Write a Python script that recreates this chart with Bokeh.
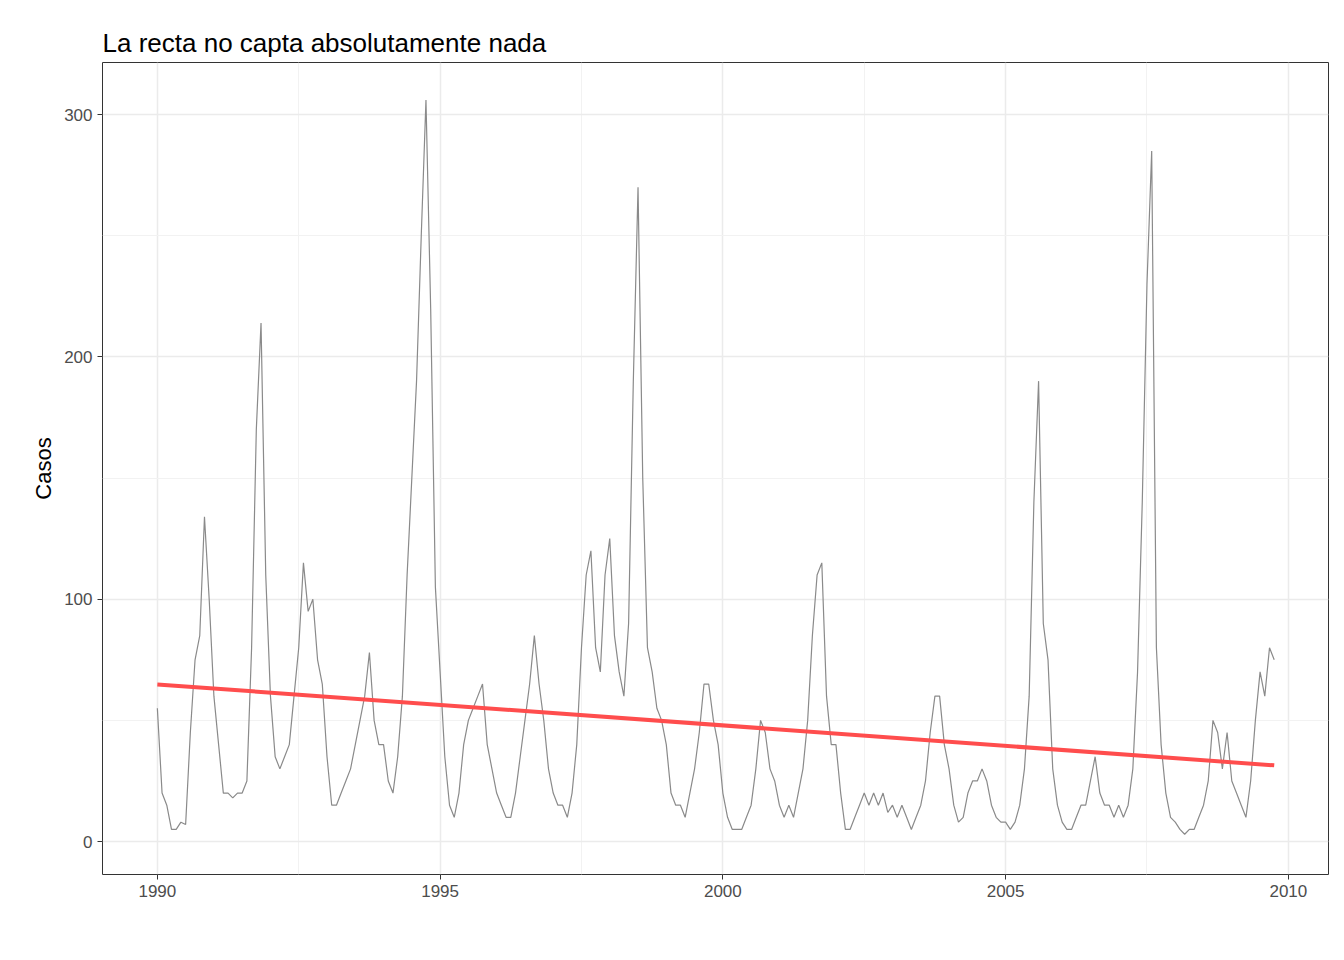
import numpy as np
from bokeh.plotting import figure
from bokeh.models import FixedTicker, Range1d
from bokeh.embed import file_html
from bokeh.resources import INLINE

start_year = 1990
casos = [
 55,20,15,5,5,8,7,45,75,85,134,100,
 60,40,20,20,18,20,20,25,80,170,214,110,
 60,35,30,35,40,60,80,115,95,100,75,65,
 35,15,15,20,25,30,40,50,60,78,50,40,
 40,25,20,35,60,110,150,190,250,306,220,105,
 70,35,15,10,20,40,50,55,60,65,40,30,
 20,15,10,10,20,35,50,65,85,65,50,30,
 20,15,15,10,20,40,80,110,120,80,70,110,
 125,85,70,60,90,190,270,150,80,70,55,50,
 40,20,15,15,10,20,30,45,65,65,50,40,
 20,10,5,5,5,10,15,30,50,45,30,25,
 15,10,15,10,20,30,50,85,110,115,60,40,
 40,20,5,5,10,15,20,15,20,15,20,12,
 15,10,15,10,5,10,15,25,45,60,60,40,
 30,15,8,10,20,25,25,30,25,15,10,8,
 8,5,8,15,30,60,140,190,90,75,30,15,
 8,5,5,10,15,15,25,35,20,15,15,10,
 15,10,15,30,70,140,230,285,80,40,20,10,
 8,5,3,5,5,10,15,25,50,45,30,45,
 25,20,15,10,25,50,70,60,80,75,
]
x_ticks = [1990, 1995, 2000, 2005, 2010]
x_minor = [1992.5, 1997.5, 2002.5, 2007.5]
y_ticks = [0, 100, 200, 300]
y_minor = [50, 150, 250]

t = start_year + np.arange(len(casos)) / 12.0
y = np.array(casos, dtype=float)
b, a = np.polyfit(t, y, 1)
fit_x = [t[0], t[-1]]
fit_y = [a + b * t[0], a + b * t[-1]]

p = figure(width=1336, height=944, output_backend="svg", toolbar_location=None,
           title="La recta no capta absolutamente nada",
           x_range=Range1d(1989.03, 2010.71), y_range=Range1d(-13.6, 321.5),
           min_border_left=102, min_border_right=8, min_border_top=62, min_border_bottom=70)
p.title.text_font = "Liberation Sans"
p.title.text_font_size = "26px"
p.title.text_font_style = "normal"
p.title.text_color = "black"

p.line(t, y, line_color="#8a8a8a", line_width=1.2)
p.line(fit_x, fit_y, line_color="#ff4d4d", line_width=4)

p.xaxis.ticker = FixedTicker(ticks=x_ticks, minor_ticks=x_minor)
p.yaxis.ticker = FixedTicker(ticks=y_ticks, minor_ticks=y_minor)
p.yaxis.axis_label = "Casos"
p.yaxis.axis_label_text_font = "Liberation Sans"
p.yaxis.axis_label_text_font_size = "22px"
p.yaxis.axis_label_text_font_style = "normal"
p.yaxis.axis_label_text_color = "black"
for ax in (p.xaxis, p.yaxis):
    ax.major_label_text_font = "Liberation Sans"
    ax.major_label_text_font_size = "17px"
    ax.major_label_text_color = "#4d4d4d"
    ax.axis_line_color = None
    ax.major_tick_line_color = "#333333"
    ax.major_tick_out = 5
    ax.major_tick_in = 0
    ax.minor_tick_line_color = None
p.grid.grid_line_color = "#ebebeb"
p.grid.grid_line_width = 1.5
p.grid.minor_grid_line_color = "#f2f2f2"
p.grid.minor_grid_line_width = 1
p.outline_line_color = "#333333"
p.outline_line_width = 1
p.background_fill_color = "white"

open("out.html", "w").write(file_html(p, INLINE))
